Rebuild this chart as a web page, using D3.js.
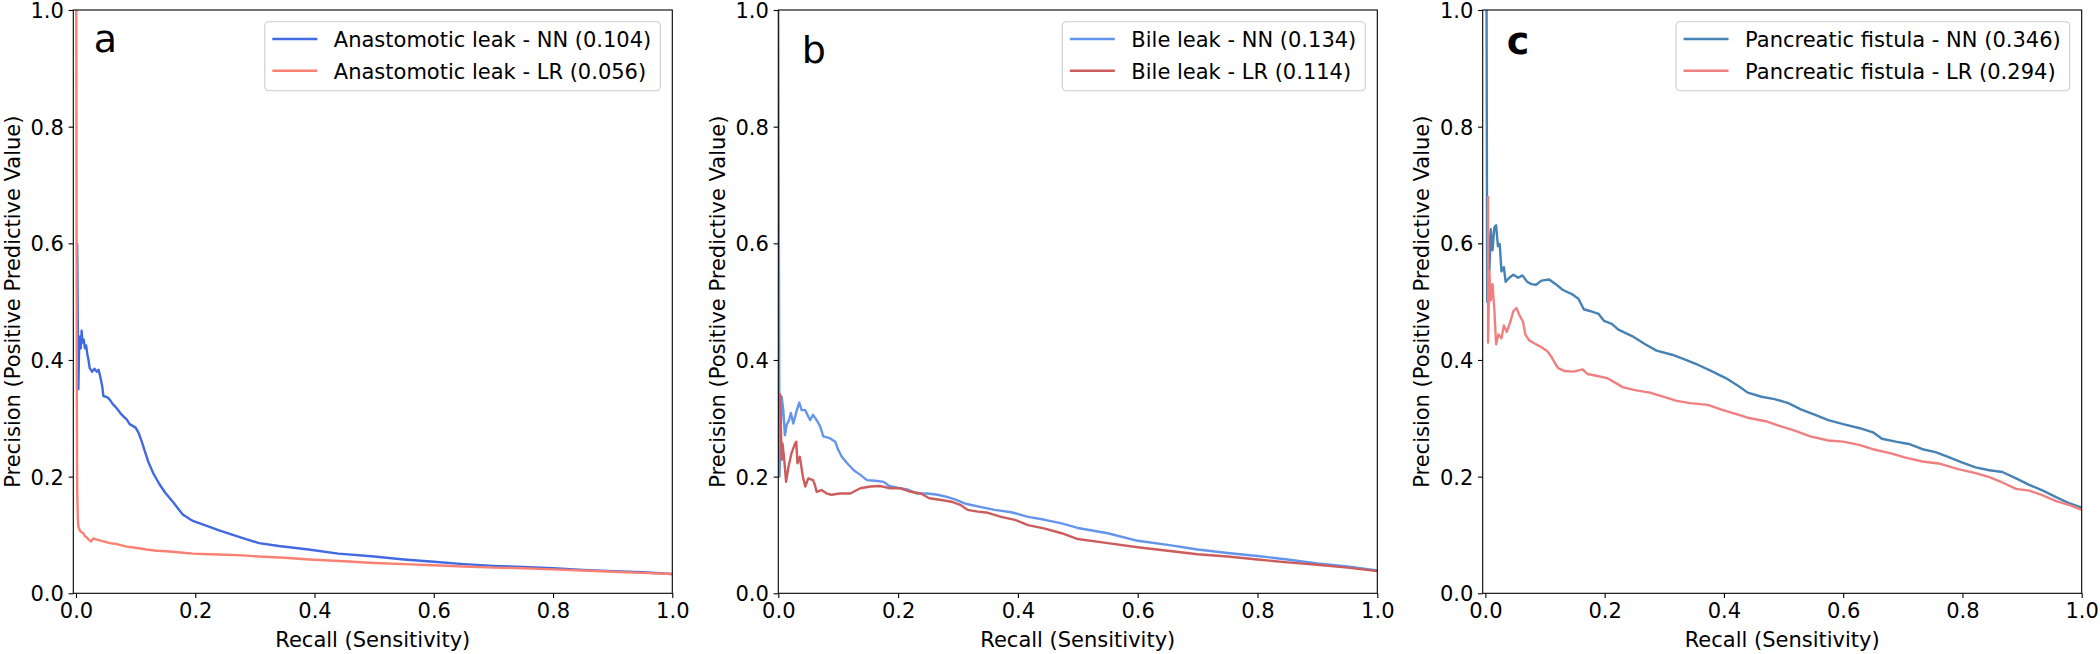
<!DOCTYPE html>
<html><head><meta charset="utf-8">
<script src="https://cdn.jsdelivr.net/npm/d3@7"></script>
<style>body{margin:0;background:#fff}svg{display:block}text{font-family:"DejaVu Sans",sans-serif}</style>
</head><body>
<svg id="chart" width="2100" height="654"></svg>
<script>
// ---------- data ----------
const tickValues = [0, 0.2, 0.4, 0.6, 0.8, 1.0];
const xLabel = "Recall (Sensitivity)";
const yLabel = "Precision (Positive Predictive Value)";
const panelLetters = ["a", "b", "c"];

const anaNNRecall = [0.002,0.003,0.004,0.005,0.006,0.008,0.0095,0.011,0.013,0.015,0.017,0.019,0.021,0.023,0.027,0.031,0.035,0.038,0.041,0.044,0.046,0.05,0.054,0.058,0.062,0.066,0.07,0.075,0.08,0.085,0.09,0.095,0.1,0.105,0.11,0.115,0.121,0.13,0.14,0.15,0.163,0.179,0.196,0.21,0.224,0.24,0.263,0.285,0.307,0.34,0.39,0.44,0.5,0.55,0.6,0.65,0.7,0.75,0.8,0.85,0.9,0.95,1.0];
const anaNNPrecision = [0.6,0.47,0.35,0.41,0.44,0.42,0.45,0.43,0.435,0.42,0.425,0.41,0.4,0.386,0.38,0.385,0.38,0.383,0.37,0.355,0.338,0.337,0.335,0.33,0.324,0.32,0.315,0.308,0.303,0.298,0.29,0.287,0.284,0.275,0.261,0.245,0.226,0.205,0.187,0.172,0.156,0.135,0.124,0.119,0.114,0.108,0.1,0.093,0.086,0.081,0.075,0.068,0.063,0.058,0.054,0.05,0.047,0.045,0.043,0.04,0.038,0.036,0.033];
const anaLRRecall = [0.0005,0.001,0.0015,0.002,0.003,0.004,0.0067,0.009,0.012,0.015,0.018,0.021,0.025,0.029,0.035,0.046,0.057,0.07,0.085,0.1,0.118,0.135,0.152,0.175,0.196,0.225,0.252,0.28,0.307,0.35,0.391,0.45,0.5,0.55,0.6,0.65,0.7,0.75,0.8,0.85,0.9,0.95,1.0];
const anaLRPrecision = [1.0,0.6,0.3,0.18,0.13,0.114,0.107,0.105,0.103,0.098,0.096,0.092,0.089,0.094,0.092,0.089,0.086,0.084,0.08,0.078,0.075,0.073,0.072,0.07,0.068,0.067,0.066,0.065,0.063,0.061,0.058,0.055,0.052,0.05,0.048,0.046,0.044,0.043,0.041,0.039,0.037,0.035,0.033];

const bileNNRecall = [0.0,0.001,0.002,0.0056,0.0084,0.011,0.014,0.018,0.021,0.025,0.031,0.035,0.039,0.045,0.05,0.053,0.058,0.064,0.07,0.075,0.086,0.095,0.1,0.106,0.115,0.126,0.137,0.148,0.162,0.176,0.185,0.199,0.215,0.232,0.249,0.266,0.283,0.297,0.311,0.333,0.361,0.389,0.417,0.445,0.473,0.5,0.55,0.6,0.65,0.7,0.75,0.8,0.85,0.9,0.95,1.0];
const bileNNPrecision = [1.0,0.6,0.2,0.337,0.314,0.271,0.289,0.297,0.309,0.291,0.314,0.327,0.314,0.314,0.303,0.297,0.306,0.297,0.286,0.269,0.266,0.26,0.246,0.234,0.223,0.211,0.203,0.194,0.193,0.191,0.184,0.181,0.178,0.171,0.171,0.169,0.165,0.16,0.154,0.149,0.143,0.139,0.131,0.126,0.12,0.112,0.103,0.09,0.083,0.075,0.069,0.064,0.058,0.051,0.046,0.039];
const bileLRRecall = [0.003,0.0056,0.007,0.0095,0.013,0.017,0.022,0.028,0.03,0.032,0.036,0.041,0.045,0.05,0.058,0.061,0.064,0.072,0.081,0.089,0.103,0.12,0.137,0.154,0.17,0.187,0.204,0.221,0.238,0.252,0.272,0.289,0.305,0.316,0.333,0.35,0.372,0.395,0.417,0.445,0.473,0.5,0.55,0.6,0.65,0.7,0.75,0.8,0.85,0.9,0.95,1.0];
const bileLRPrecision = [0.343,0.229,0.257,0.234,0.191,0.217,0.24,0.257,0.26,0.223,0.234,0.2,0.183,0.197,0.194,0.186,0.174,0.177,0.171,0.169,0.171,0.171,0.18,0.183,0.184,0.18,0.18,0.174,0.171,0.163,0.16,0.157,0.151,0.143,0.14,0.138,0.131,0.126,0.117,0.111,0.103,0.093,0.086,0.079,0.073,0.067,0.063,0.058,0.053,0.049,0.044,0.038];

const pancNNRecall = [0.0,0.002,0.003,0.0045,0.0067,0.009,0.012,0.015,0.018,0.021,0.024,0.027,0.031,0.034,0.04,0.047,0.055,0.062,0.07,0.077,0.085,0.094,0.107,0.118,0.13,0.145,0.156,0.165,0.175,0.19,0.199,0.212,0.223,0.246,0.268,0.287,0.313,0.336,0.358,0.381,0.403,0.425,0.44,0.463,0.485,0.508,0.53,0.553,0.575,0.6,0.628,0.65,0.665,0.688,0.71,0.733,0.755,0.778,0.8,0.822,0.845,0.867,0.89,0.912,0.935,0.957,0.98,1.0];
const pancNNPrecision = [1.0,1.0,0.5,0.616,0.552,0.624,0.588,0.627,0.631,0.595,0.599,0.552,0.559,0.534,0.541,0.546,0.541,0.545,0.534,0.53,0.529,0.536,0.538,0.53,0.52,0.513,0.505,0.487,0.484,0.479,0.467,0.462,0.452,0.441,0.427,0.416,0.409,0.4,0.391,0.38,0.369,0.355,0.344,0.337,0.333,0.326,0.315,0.306,0.297,0.29,0.283,0.276,0.265,0.26,0.256,0.247,0.242,0.233,0.224,0.216,0.211,0.208,0.197,0.186,0.176,0.165,0.154,0.147];
const pancLRRecall = [0.0045,0.0045,0.0067,0.009,0.012,0.015,0.018,0.022,0.027,0.031,0.036,0.042,0.047,0.052,0.057,0.063,0.067,0.073,0.081,0.092,0.103,0.111,0.117,0.122,0.133,0.148,0.163,0.171,0.186,0.204,0.216,0.231,0.253,0.276,0.298,0.321,0.343,0.373,0.396,0.418,0.44,0.47,0.493,0.515,0.545,0.575,0.6,0.628,0.65,0.68,0.703,0.733,0.763,0.793,0.822,0.845,0.867,0.89,0.912,0.935,0.957,0.98,1.0];
const pancLRPrecision = [0.681,0.43,0.552,0.502,0.53,0.487,0.427,0.444,0.437,0.459,0.448,0.466,0.484,0.489,0.477,0.466,0.444,0.434,0.429,0.423,0.416,0.405,0.394,0.386,0.381,0.38,0.384,0.376,0.373,0.369,0.362,0.353,0.348,0.344,0.337,0.33,0.326,0.323,0.315,0.308,0.301,0.295,0.287,0.28,0.269,0.262,0.26,0.254,0.247,0.24,0.233,0.226,0.222,0.213,0.206,0.199,0.19,0.179,0.176,0.168,0.158,0.151,0.143];

const seriesLabels = [
  ["Anastomotic leak - NN (0.104)", "Anastomotic leak - LR (0.056)"],
  ["Bile leak - NN (0.134)", "Bile leak - LR (0.114)"],
  ["Pancreatic fistula - NN (0.346)", "Pancreatic fistula - LR (0.294)"]
];
const seriesColors = [["#4169e1", "#fa8072"], ["#6495ed", "#cd5c5c"], ["#4682b4", "#f08080"]];
const xMins = [-0.0045, 0, -0.0045];
const letterPos = [[0.0297, 0.9275], [0.039, 0.9095], [0.036, 0.925]];
const letterWeights = ["normal", "normal", "bold"];

const zip = (r, p) => r.map((v, i) => ({r: v, p: p[i]}));
const panels = [
  {series: [zip(anaNNRecall, anaNNPrecision), zip(anaLRRecall, anaLRPrecision)]},
  {series: [zip(bileNNRecall, bileNNPrecision), zip(bileLRRecall, bileLRPrecision)]},
  {series: [zip(pancNNRecall, pancNNPrecision), zip(pancLRRecall, pancLRPrecision)]}
];

// ---------- layout ----------
const svg = d3.select("#chart");
const lefts = [73.3, 778.3, 1482.7];
const W = 599, plotTop = 10, H = 583.3;
const FS = 21;

panels.forEach((pan, i) => {
  const g = svg.append("g").attr("transform", `translate(${lefts[i]},${plotTop})`);
  const x = d3.scaleLinear().domain([xMins[i], 1]).range([0, W]);
  const y = d3.scaleLinear().domain([0, 1]).range([H, 0]);

  const clipId = "clip" + i;
  g.append("clipPath").attr("id", clipId).append("rect").attr("x", 0).attr("y", 0).attr("width", W).attr("height", H);

  const line = d3.line().x(d => x(d.r)).y(d => y(d.p));
  pan.series.forEach((s, k) => {
    g.append("path").datum(s).attr("d", line).attr("fill", "none")
      .attr("stroke", seriesColors[i][k]).attr("stroke-width", 2.4)
      .attr("stroke-linejoin", "round").attr("clip-path", `url(#${clipId})`);
  });

  // axes
  const fmt = d3.format(".1f");
  const xa = g.append("g").attr("transform", `translate(0,${H})`)
    .call(d3.axisBottom(x).tickValues(tickValues).tickFormat(fmt).tickSize(4.7).tickPadding(4.7));
  const ya = g.append("g")
    .call(d3.axisLeft(y).tickValues(tickValues).tickFormat(fmt).tickSize(4.7).tickPadding(4.7));
  [xa, ya].forEach(a => {
    a.select(".domain").remove();
    a.selectAll("line").attr("stroke", "#000").attr("stroke-width", 1.1);
    a.selectAll("text").attr("fill", "#000").style("font-size", FS + "px").style("font-family", "DejaVu Sans");
  });
  ya.selectAll("text").attr("dy", "0.36em");

  // spines
  g.append("rect").attr("x", 0).attr("y", 0).attr("width", W).attr("height", H)
    .attr("fill", "none").attr("stroke", "#000").attr("stroke-width", 1.1);

  // axis labels
  g.append("text").attr("x", W / 2).attr("y", 637).attr("text-anchor", "middle")
    .style("font-size", FS + "px").text(xLabel);
  g.append("text").attr("transform", `translate(-53.8,${H / 2}) rotate(-90)`).attr("text-anchor", "middle")
    .style("font-size", FS + "px").text(yLabel);

  // panel letter
  g.append("text").attr("x", x(letterPos[i][0])).attr("y", y(letterPos[i][1]))
    .style("font-size", "38px").style("font-weight", letterWeights[i]).text(panelLetters[i]);

  // legend
  const lg = g.append("g");
  const texts = seriesLabels[i].map((t, k) => lg.append("text").attr("y", 29 + k * 31.7 + 7.8)
    .style("font-size", FS + "px").attr("fill", "#000").text(t));
  const tw = d3.max(texts, t => t.node().getComputedTextLength());
  const boxR = W - 12, boxL = boxR - 9 - tw - 69;
  lg.insert("rect", "text").attr("x", boxL).attr("y", 11.8).attr("width", boxR - boxL).attr("height", 69)
    .attr("rx", 4).attr("fill", "#fff").attr("fill-opacity", 0.8).attr("stroke", "#cccccc").attr("stroke-width", 1.1);
  texts.forEach(t => t.attr("x", boxL + 69));
  seriesLabels[i].forEach((t, k) => {
    lg.append("line").attr("x1", boxL + 7.5).attr("x2", boxL + 52.5)
      .attr("y1", 29 + k * 31.7).attr("y2", 29 + k * 31.7)
      .attr("stroke", seriesColors[i][k]).attr("stroke-width", 2.4);
  });
});
</script>
</body></html>
